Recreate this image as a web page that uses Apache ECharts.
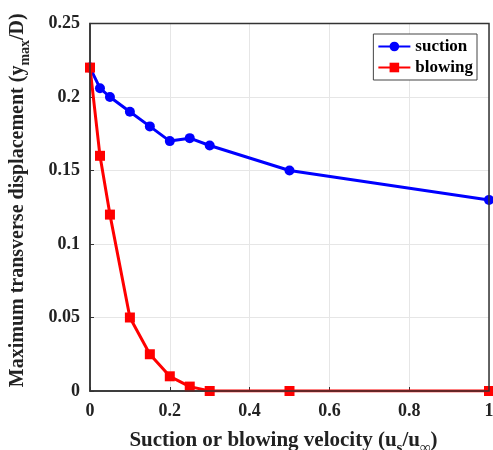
<!DOCTYPE html>
<html><head><meta charset="utf-8">
<script src="https://cdn.jsdelivr.net/npm/echarts@6/dist/echarts.min.js"></script>
<style>html,body{margin:0;padding:0;background:#fff}#c{width:493px;height:450px}</style>
</head><body><div id="c"></div>
<script>
const xValues = [0, 0.025, 0.05, 0.1, 0.15, 0.2, 0.25, 0.3, 0.5, 1];
const suction = [0.22, 0.206, 0.2, 0.19, 0.18, 0.17, 0.172, 0.167, 0.15, 0.13];
const blowing = [0.22, 0.16, 0.12, 0.05, 0.025, 0.01, 0.003, 0, 0, 0];
const seriesNames = ['suction', 'blowing'];

const font = 'Liberation Serif';
const chart = echarts.init(document.getElementById('c'));
const pair = (ys) => xValues.map((x, i) => [x, ys[i]]);
chart.setOption({
  animation: false,
  grid: {left: 90, right: 4, top: 23.5, bottom: 59, containLabel: false, outerBoundsMode: 'none'},
  legend: {
    right: 16, top: 34,
    orient: 'vertical',
    itemWidth: 32, itemHeight: 12, itemGap: 4,
    padding: [4, 4, 4, 4],
    borderColor: '#444', borderWidth: 1, backgroundColor: '#fff',
    textStyle: {fontFamily: font, fontWeight: 'bold', fontSize: 17, color: '#000'},
    data: seriesNames
  },
  xAxis: {
    type: 'value', min: 0, max: 1, interval: 0.2,
    name: '{a|Suction or blowing velocity (u}{s|s}{a|/u}{s|∞}{a|)}',
    nameLocation: 'middle', nameGap: 34,
    nameTextStyle: {padding: [0, 12, 0, 0], rich: {
      a: {fontFamily: font, fontWeight: 'bold', fontSize: 21, color: '#222'},
      s: {fontFamily: font, fontWeight: 'bold', fontSize: 15, color: '#222', padding: [16, 0, 0, 0]}
    }},
    axisLine: {show: true, lineStyle: {color: '#333', width: 1.5}},
    axisTick: {show: true, inside: true, length: 4, lineStyle: {color: '#333'}},
    axisLabel: {fontFamily: font, fontWeight: 'bold', fontSize: 18, color: '#222', margin: 11,
      formatter: v => String(+v.toFixed(2))},
    splitLine: {show: true, lineStyle: {color: '#e6e6e6'}}
  },
  yAxis: {
    type: 'value', min: 0, max: 0.25, interval: 0.05,
    name: '{a|Maximum transverse displacement (y}{s|max}{a|/D)}',
    nameLocation: 'middle', nameGap: 58, nameRotate: 90,
    nameTextStyle: {padding: [0, 0, 0, 14], rich: {
      a: {fontFamily: font, fontWeight: 'bold', fontSize: 20, color: '#222'},
      s: {fontFamily: font, fontWeight: 'bold', fontSize: 14, color: '#222', padding: [14, 0, 0, 0]}
    }},
    axisLine: {show: true, lineStyle: {color: '#333', width: 1.5}},
    axisTick: {show: true, inside: true, length: 4, lineStyle: {color: '#333'}},
    axisLabel: {fontFamily: font, fontWeight: 'bold', fontSize: 18, color: '#222', margin: 10,
      formatter: v => String(+v.toFixed(2))},
    splitLine: {show: true, lineStyle: {color: '#e6e6e6'}}
  },
  series: [
    {name: seriesNames[0], type: 'line', data: pair(suction), symbol: 'circle', symbolSize: 10,
     color: '#0000ff', lineStyle: {width: 3}, z: 3},
    {name: seriesNames[1], type: 'line', data: pair(blowing), symbol: 'rect', symbolSize: 10,
     color: '#ff0000', lineStyle: {width: 3}, z: 4}
  ],
  graphic: [{type: 'rect', shape: {x: 90, y: 23.5, width: 399, height: 367.5}, silent: true,
    style: {fill: 'none', stroke: '#333', lineWidth: 1.5}, z: 10}]
});
</script></body></html>
